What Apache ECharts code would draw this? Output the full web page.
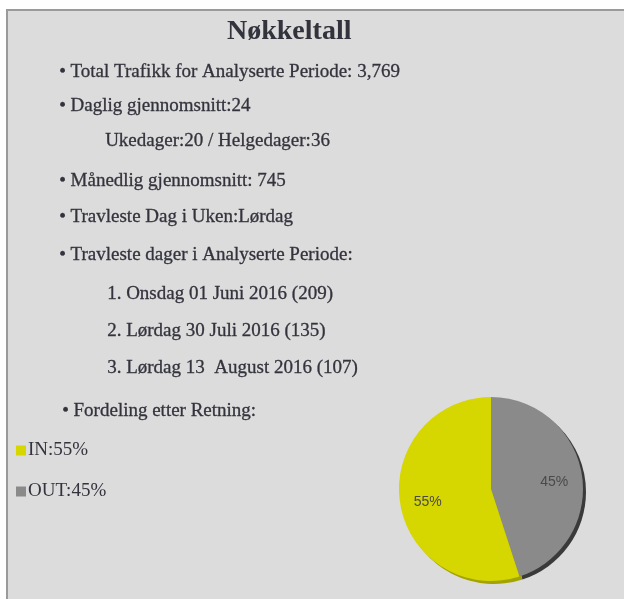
<!DOCTYPE html>
<html>
<head>
<meta charset="utf-8">
<script src="https://cdn.jsdelivr.net/npm/echarts@6/dist/echarts.min.js"></script>
<style>
  html, body { margin: 0; padding: 0; background: #fff; }
  #keyChart { width: 624px; height: 599px; }
</style>
</head>
<body>
<div id="keyChart"></div>
<script>
const title = 'Nøkkeltall'
const directions = ['IN', 'OUT']
const shares = [55, 45]
const infoLines = [
  '• Total Trafikk for Analyserte Periode: 3,769',
  '• Daglig gjennomsnitt:24',
  'Ukedager:20 / Helgedager:36',
  '• Månedlig gjennomsnitt: 745',
  '• Travleste Dag i Uken:Lørdag',
  '• Travleste dager i Analyserte Periode:',
  '1. Onsdag 01 Juni 2016 (209)',
  '2. Lørdag 30 Juli 2016 (135)',
  '3. Lørdag 13  August 2016 (107)',
  '• Fordeling etter Retning:'
]

const colorList = ['#d6d600', '#8a8a8a']
const rimColors = ['#a3a300', '#3a3a3a']
const textColor = '#33333d'
const serif = '"Liberation Serif", "DejaVu Serif", serif'

// layout of the text block (x, center y)
const lineX = [59, 59, 105, 59, 59, 59, 107, 107, 107, 62]
const lineY = [70, 104, 139, 179, 215, 253, 292, 329, 366, 409]

const drawKeyChart = () => {
  const dom = document.getElementById('keyChart')
  const keyChart = echarts.init(dom)

  // pie draws OUT first so it sits on the right, starting at 12 o'clock
  const order = [1, 0]
  const pieData = order.map(i => ({
    name: directions[i],
    value: shares[i],
    itemStyle: { color: colorList[i] }
  }))
  const rimData = order.map(i => ({
    name: directions[i],
    value: shares[i],
    itemStyle: { color: rimColors[i] }
  }))
  const labelData = order.map(i => ({
    name: directions[i],
    value: shares[i]
  }))

  const texts = infoLines.map((t, i) => ({
    type: 'text',
    left: lineX[i],
    top: lineY[i] - 8,
    style: {
      text: t,
      fill: textColor,
      stroke: textColor,
      lineWidth: 0.3,
      font: '19px ' + serif
    }
  }))

  const option = {
    backgroundColor: '#ffffff',
    graphic: [
      {
        type: 'rect',
        shape: { x: 7, y: 10, width: 620, height: 592 },
        style: { fill: '#dcdcdc', stroke: '#9a9a9a', lineWidth: 2 },
        z: -10
      },
      {
        type: 'text',
        left: 227,
        top: 18,
        style: {
          text: title,
          fill: textColor,
          font: 'bold 28px ' + serif
        }
      },
      ...texts
    ],
    legend: {
      orient: 'vertical',
      left: 11,
      top: 436,
      data: directions,
      icon: 'rect',
      itemWidth: 10,
      itemHeight: 10,
      itemGap: 22,
      selectedMode: false,
      formatter: name => name + ':' + shares[directions.indexOf(name)] + '%',
      textStyle: {
        color: textColor,
        fontFamily: serif,
        fontSize: 19,
        padding: [0, 0, 0, -3]
      }
    },
    series: [
      {
        type: 'pie',
        silent: true,
        center: [491, 489],
        radius: [0, 92],
        startAngle: 90,
        clockwise: true,
        label: { show: false },
        data: pieData,
        z: 2
      },
      {
        type: 'pie',
        silent: true,
        center: [494, 492],
        radius: [0, 92],
        startAngle: 90,
        clockwise: true,
        label: { show: false },
        data: rimData,
        z: 1
      },
      {
        type: 'pie',
        silent: true,
        center: [491, 492],
        radius: [30, 92],
        startAngle: 90,
        clockwise: true,
        itemStyle: { color: 'rgba(0,0,0,0)' },
        label: {
          show: true,
          position: 'inside',
          formatter: '{c}%',
          color: '#4a4a4a',
          fontFamily: 'Arial, "Liberation Sans", sans-serif',
          fontSize: 14
        },
        data: labelData,
        z: 3
      }
    ]
  }

  keyChart.setOption(option)
}

drawKeyChart()
</script>
</body>
</html>
